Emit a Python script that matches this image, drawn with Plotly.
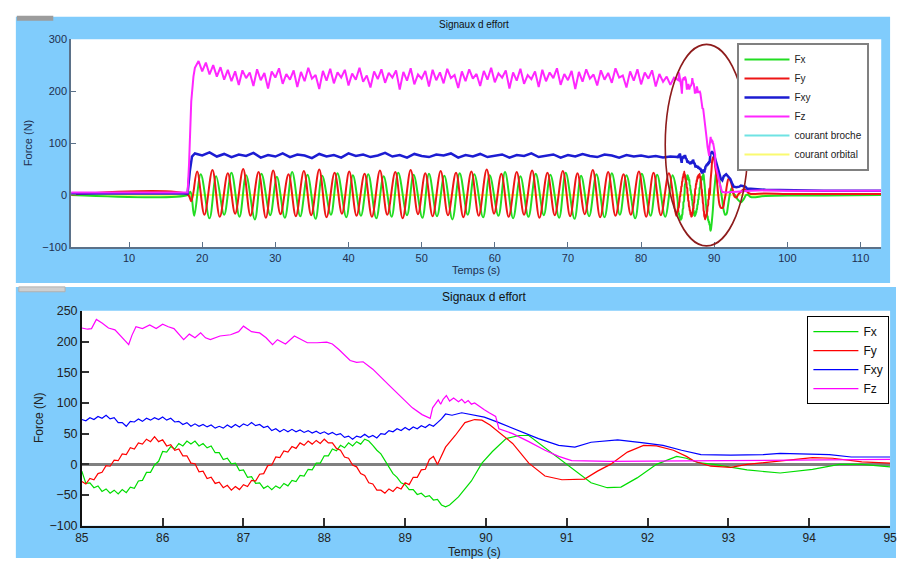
import plotly.graph_objects as go

# ------------------------------------------------------------------
# DATA
# ------------------------------------------------------------------
# Sample clock of the detailed (zoomed) record, 85.00 s -> 89.50 s
DT_FINE = 0.05
t_fine = [round(85.0 + DT_FINE * i, 2) for i in range(91)]

fx_fine = [-11, -31, -30, -38, -35, -44, -40, -47, -42, -48,
           -41, -46, -37, -39, -27, -26, -13, -13, -1, 5,
           21, 20, 29, 25, 34, 30, 38, 33, 38, 30,
           34, 27, 30, 19, 19, 8, 10, 1, 2, -10,
           -9, -21, -20, -31, -30, -39, -35, -41, -35, -39,
           -31, -35, -26, -28, -18, -19, -8, -9, 2, 2,
           14, 14, 25, 22, 31, 27, 35, 30, 37, 33,
           41, 38, 31, 23, 17, 7, -3, -15, -21, -30,
           -33, -41, -41, -49, -47, -53, -51, -58, -57, -66,
           -69]
fy_fine = [-28, -32, -23, -25, -15, -13, -2, -3, 7, 6,
           17, 16, 27, 25, 35, 33, 41, 37, 45, 37,
           40, 30, 32, 23, 25, 14, 14, 2, 1, -12,
           -11, -23, -21, -31, -29, -38, -34, -42, -36, -41,
           -33, -36, -26, -27, -16, -15, -2, -1, 12, 11,
           22, 20, 29, 26, 35, 31, 38, 33, 39, 34,
           41, 35, 35, 26, 23, 12, 10, -1, -4, -15,
           -18, -30, -32, -42, -42, -47, -40, -44, -37, -40,
           -30, -33, -21, -21, -9, -8, 8, 13, 0, 14,
           28]
fxy_fine = [73, 71, 76, 73, 78, 75, 80, 74, 76, 68,
            68, 62, 70, 69, 74, 70, 75, 72, 76, 73,
            77, 72, 75, 69, 70, 65, 68, 62, 66, 62,
            65, 61, 64, 59, 62, 59, 64, 60, 65, 61,
            66, 63, 68, 63, 65, 60, 62, 55, 58, 53,
            57, 53, 57, 53, 56, 52, 55, 51, 54, 50,
            53, 49, 52, 48, 50, 44, 46, 41, 46, 44,
            49, 44, 47, 43, 50, 49, 55, 53, 58, 55,
            60, 56, 61, 58, 63, 60, 65, 62, 68, 74,
            82]

fx_tail_t = [89.55, 89.66, 89.82, 89.95, 90.08, 90.25, 90.41, 90.53, 90.69, 90.90,
             91.10, 91.30, 91.50, 91.67, 91.87, 92.11, 92.36, 92.48, 92.62, 92.82,
             93.23, 93.64, 94.04, 94.37, 94.65, 95.0]
fx_tail_v = [-66, -53, -27, 2, 21, 42, 47, 47, 31, 10,
             -11, -30, -38, -37, -22, 0, 13, 10, 3, 0,
             -9, -14, -8, 0, 0, -4]

fy_tail_t = [89.62, 89.74, 89.86, 89.95, 90.05, 90.16, 90.33, 90.53, 90.73, 90.94,
             91.10, 91.22, 91.38, 91.54, 91.75, 91.95, 92.11, 92.32, 92.48, 92.58,
             92.78, 93.03, 93.23, 93.64, 94.04, 94.29, 94.65, 95.0]
fy_tail_v = [47, 68, 73, 72, 64, 52, 34, 2, -19, -25,
             -25, -24, -11, 0, 20, 31, 30, 23, 13, 5,
             -3, -5, 0, 6, 11, 10, 4, 2]

fxy_tail_t = [89.58, 89.70, 89.86, 89.98, 90.16, 90.41, 90.65, 90.90, 91.10, 91.30,
              91.63, 91.95, 92.19, 92.42, 92.66, 93.03, 93.43, 93.64, 94.25, 94.52, 95.0]
fxy_tail_v = [80, 84, 80, 77, 68, 55, 42, 31, 28, 36,
              40, 35, 31, 23, 16, 15, 16, 18, 16, 12, 12]

fz_zoom_t = [85.0, 85.07, 85.12, 85.18, 85.25, 85.33, 85.41, 85.49, 85.58, 85.62,
             85.67, 85.75, 85.84, 85.92, 86.0, 86.07, 86.14, 86.26, 86.33, 86.40,
             86.47, 86.53, 86.59, 86.71, 86.84, 86.94, 87.0, 87.1, 87.2, 87.28,
             87.36, 87.42, 87.52, 87.63, 87.70, 87.79, 87.91, 88.03, 88.10, 88.18,
             88.32, 88.40, 88.48, 88.60, 88.80, 88.97, 89.09, 89.21, 89.31, 89.34,
             89.38, 89.41, 89.44, 89.47, 89.51, 89.55, 89.60, 89.66, 89.70, 89.74,
             89.78, 89.82, 89.86, 89.90, 89.98, 90.04, 90.12, 90.16, 90.33, 90.53,
             90.73, 90.90, 91.06, 91.54, 92.48, 93.23, 94.04, 94.85, 95.0]
fz_zoom_v = [222, 220, 221, 236, 230, 222, 219, 208, 195, 210,
             224, 221, 227, 221, 228, 224, 221, 203, 212, 206,
             214, 206, 203, 209, 211, 216, 225, 216, 214, 206,
             195, 203, 196, 209, 204, 198, 198, 199, 196, 187,
             169, 166, 167, 155, 129, 108, 92, 81, 75, 92,
             100, 105, 98, 106, 112, 103, 108, 102, 106, 100,
             104, 98, 100, 96, 89, 84, 78, 58, 50, 37,
             23, 13, 6, 5, 6, 6, 7, 8, 8]

# ---- overview record (2 s -> 113 s), outside the zoomed window ----
fx_pre_t = [2.1, 18.0, 18.4]
fx_pre_v = [0, 0, 6]
fy_pre_t = [2.1, 18.0, 18.5]
fy_pre_v = [1, 1, -12]
fxy_pre_t = [2.1, 18.0, 18.3, 18.6]
fxy_pre_v = [3, 3, 45, 74]
fz_pre_t = [2.1, 18.0, 18.2, 18.5, 18.8]
fz_pre_v = [5, 5, 60, 180, 228]

# extrema of the Fx / Fy oscillation during machining
fx_osc_t = [18.9, 19.8, 21.0, 21.9, 23.0, 24.0, 25.1, 26.0, 27.2, 28.1,
            29.3, 30.2, 31.3, 32.3, 33.4, 34.4, 35.5, 36.4, 37.6, 38.5,
            39.7, 40.6, 41.7, 42.7, 43.8, 44.8, 45.9, 46.8, 48.0, 48.9,
            50.1, 51.0, 52.1, 53.1, 54.2, 55.2, 56.3, 57.2, 58.4, 59.3,
            60.5, 61.4, 62.5, 63.5, 64.6, 65.6, 66.7, 67.6, 68.8, 69.7,
            70.9, 71.8, 72.9, 73.9, 75.0, 76.0, 77.1, 78.0, 79.2, 80.1,
            81.3, 82.2, 83.3, 84.3]
fx_osc_v = [-40, 40, -45, 36, -38, 43, -42, 38, -47, 41,
            -39, 35, -44, 44, -41, 39, -46, 37, -38, 42,
            -43, 38, -40, 40, -45, 36, -42, 43, -39, 39,
            -44, 41, -41, 37, -47, 42, -38, 40, -43, 38,
            -40, 44, -45, 36, -42, 41, -39, 39, -44, 43,
            -46, 37, -41, 40, -43, 42, -38, 38, -45, 41,
            -40, 39, -42, 38]
fy_osc_t = [19.3, 20.3, 21.4, 22.4, 23.5, 24.5, 25.6, 26.6, 27.7, 28.7,
            29.7, 30.7, 31.8, 32.8, 33.9, 34.9, 36.0, 37.0, 38.1, 39.1,
            40.1, 41.1, 42.2, 43.2, 44.3, 45.3, 46.4, 47.4, 48.5, 49.5,
            50.5, 51.5, 52.6, 53.6, 54.7, 55.7, 56.8, 57.8, 58.9, 59.9,
            60.9, 61.9, 63.0, 64.0, 65.1, 66.1, 67.2, 68.2, 69.3, 70.3,
            71.3, 72.3, 73.4, 74.4, 75.5, 76.5, 77.6, 78.6, 79.7, 80.7,
            81.7, 82.7, 83.8, 84.8]
fy_osc_v = [45, -38, 48, -42, 42, -36, 50, -40, 44, -44,
            47, -37, 40, -41, 46, -39, 49, -43, 43, -36,
            45, -40, 41, -42, 47, -38, 44, -45, 48, -37,
            42, -41, 46, -39, 43, -43, 45, -40, 49, -36,
            41, -42, 44, -38, 47, -44, 43, -39, 46, -41,
            42, -37, 48, -43, 44, -40, 40, -38, 45, -42,
            43, -39, 42, -40]

# Fz sampled every 0.5 s from 19.0 s to 84.5 s
t_half = [19.0 + 0.5 * i for i in range(132)]
fz_mid_v = [245, 258, 238, 255, 232, 250, 228, 246, 222, 241,
            219, 238, 212, 240, 225, 236, 210, 242, 221, 235,
            205, 238, 226, 244, 214, 233, 222, 240, 208, 237,
            219, 245, 224, 231, 204, 239, 220, 243, 215, 236,
            226, 241, 211, 234, 222, 245, 218, 230, 207, 238,
            223, 242, 216, 235, 226, 240, 203, 237, 220, 244,
            213, 232, 224, 239, 209, 241, 221, 236, 215, 243,
            225, 231, 206, 238, 219, 242, 224, 233, 210, 239,
            222, 245, 217, 234, 226, 240, 205, 236, 220, 243,
            214, 231, 223, 238, 208, 241, 219, 236, 225, 244,
            212, 233, 221, 239, 204, 237, 218, 242, 224, 232,
            211, 240, 222, 235, 216, 244, 226, 230, 207, 238,
            220, 242, 213, 236, 224, 240, 209, 233, 218, 228,
            212, 226]

# Fxy sampled every 1 s from 19 s to 84 s
t_sec = [19 + i for i in range(66)]
fxy_mid_v = [80, 76, 82, 74, 79, 73, 78, 75, 81, 72,
             77, 74, 80, 73, 78, 76, 71, 79, 74, 77,
             72, 80, 75, 78, 73, 76, 81, 74, 77, 72,
             79, 75, 73, 78, 76, 80, 72, 77, 74, 79,
             73, 76, 78, 72, 77, 75, 80, 73, 76, 78,
             72, 77, 74, 79, 75, 73, 78, 76, 72, 77,
             74, 76, 73, 75, 72, 74]

post_t = [97, 100, 105, 112.8]
fx_post_v = [-2, -1, -1, 0]
fy_post_v = [3, 2, 2, 2]
fxy_post_v = [10, 9, 8, 8]
fz_post_v = [9, 8, 8, 8]

courant_t = [2.1, 112.8]
courant_broche_v = [0, 0]
courant_orbital_v = [0, 0]

# ------------------------------------------------------------------
# FIGURE
# ------------------------------------------------------------------
W, H = 903, 565
BLUE = "#80ccfc"
FONT = "Liberation Sans, Arial, sans-serif"


def px(x):
    return x / W


def py(y):
    return 1 - y / H


fig = go.Figure()

# ---- overview (top) ----
fig.add_trace(go.Scatter(x=courant_t, y=courant_broche_v, name="courant broche",
                         mode="lines", line=dict(color="#6fe3e3", width=2),
                         xaxis="x", yaxis="y", legend="legend", legendrank=5))
fig.add_trace(go.Scatter(x=courant_t, y=courant_orbital_v, name="courant orbital",
                         mode="lines", line=dict(color="#fafa70", width=2),
                         xaxis="x", yaxis="y", legend="legend", legendrank=6))
fig.add_trace(go.Scatter(x=fx_pre_t + fx_osc_t + t_fine + fx_tail_t + post_t,
                         y=fx_pre_v + fx_osc_v + fx_fine + fx_tail_v + fx_post_v,
                         name="Fx", mode="lines",
                         line=dict(color="#22dd22", width=2, shape="spline"),
                         xaxis="x", yaxis="y", legend="legend", legendrank=1))
fig.add_trace(go.Scatter(x=fy_pre_t + fy_osc_t + t_fine + fy_tail_t + post_t,
                         y=fy_pre_v + fy_osc_v + fy_fine + fy_tail_v + fy_post_v,
                         name="Fy", mode="lines",
                         line=dict(color="#ee1515", width=2, shape="spline"),
                         xaxis="x", yaxis="y", legend="legend", legendrank=2))
fig.add_trace(go.Scatter(x=fxy_pre_t + t_sec + t_fine + fxy_tail_t + post_t,
                         y=fxy_pre_v + fxy_mid_v + fxy_fine + fxy_tail_v + fxy_post_v,
                         name="Fxy", mode="lines",
                         line=dict(color="#1c1cd2", width=2.5),
                         xaxis="x", yaxis="y", legend="legend", legendrank=3))
fig.add_trace(go.Scatter(x=fz_pre_t + t_half + fz_zoom_t + post_t,
                         y=fz_pre_v + fz_mid_v + fz_zoom_v + fz_post_v,
                         name="Fz", mode="lines",
                         line=dict(color="#ff26ff", width=2),
                         xaxis="x", yaxis="y", legend="legend", legendrank=4))

# ---- zoom 85-95 s (bottom) ----
fig.add_trace(go.Scatter(x=t_fine + fx_tail_t, y=fx_fine + fx_tail_v, name="Fx",
                         mode="lines", line=dict(color="#00dd00", width=1.2),
                         xaxis="x2", yaxis="y2", legend="legend2"))
fig.add_trace(go.Scatter(x=t_fine + fy_tail_t, y=fy_fine + fy_tail_v, name="Fy",
                         mode="lines", line=dict(color="#ff0000", width=1.2),
                         xaxis="x2", yaxis="y2", legend="legend2"))
fig.add_trace(go.Scatter(x=t_fine + fxy_tail_t, y=fxy_fine + fxy_tail_v, name="Fxy",
                         mode="lines", line=dict(color="#0000ff", width=1.2),
                         xaxis="x2", yaxis="y2", legend="legend2"))
fig.add_trace(go.Scatter(x=fz_zoom_t, y=fz_zoom_v, name="Fz",
                         mode="lines", line=dict(color="#ff00ff", width=1.2),
                         xaxis="x2", yaxis="y2", legend="legend2"))

TOP_TXT = "#1f2f4f"
AX_TOP = "#5b7189"

shapes = [
    # blue figure panels
    dict(type="rect", xref="paper", yref="paper", x0=px(9), x1=px(897),
         y0=py(283), y1=py(10), fillcolor=BLUE, line=dict(width=0), layer="below"),
    dict(type="rect", xref="paper", yref="paper", x0=px(9), x1=px(903),
         y0=py(565), y1=py(287), fillcolor=BLUE, line=dict(width=0), layer="below"),
    # white axes areas
    dict(type="rect", xref="paper", yref="paper", x0=px(65), x1=px(888),
         y0=py(246), y1=py(33), fillcolor="white", line=dict(width=0), layer="below"),
    dict(type="rect", xref="paper", yref="paper", x0=px(76), x1=px(897),
         y0=py(532), y1=py(311.5), fillcolor="white", line=dict(width=0), layer="below"),
    # small window tabs
    dict(type="rect", xref="paper", yref="paper", x0=px(10), x1=px(47),
         y0=py(14), y1=py(9), fillcolor="#9c9c9c", line=dict(width=0), layer="below"),
    dict(type="rect", xref="paper", yref="paper", x0=px(12), x1=px(59),
         y0=py(292), y1=py(287), fillcolor="#cfcfcf", line=dict(color="#b0b0b0", width=1),
         layer="below"),
    # hand-drawn ellipse around the exit zone
    dict(type="circle", xref="x", yref="y", x0=83.3, x1=94.6, y0=-98, y1=290,
         line=dict(color="#8e1c1c", width=1.6), layer="above"),
]

annotations = [
    dict(text="Signaux d effort", xref="paper", yref="paper", x=px(474), y=py(18),
         xanchor="center", yanchor="middle", showarrow=False,
         font=dict(size=10, color="#111111", family=FONT)),
    dict(text="Temps (s)", xref="paper", yref="paper", x=px(476), y=py(270),
         xanchor="center", yanchor="middle", showarrow=False,
         font=dict(size=11, color=TOP_TXT, family=FONT)),
    dict(text="Force (N)", xref="paper", yref="paper", x=px(21), y=py(140),
         xanchor="center", yanchor="middle", showarrow=False, textangle=-90,
         font=dict(size=11, color=TOP_TXT, family=FONT)),
    dict(text="Signaux d effort", xref="paper", yref="paper", x=px(485), y=py(297),
         xanchor="center", yanchor="middle", showarrow=False,
         font=dict(size=12, color="#111111", family=FONT)),
    dict(text="Temps (s)", xref="paper", yref="paper", x=px(475), y=py(559),
         xanchor="center", yanchor="middle", showarrow=False,
         font=dict(size=12, color="#222222", family=FONT)),
    dict(text="Force (N)", xref="paper", yref="paper", x=px(32), y=py(421),
         xanchor="center", yanchor="middle", showarrow=False, textangle=-90,
         font=dict(size=12, color="#222222", family=FONT)),
]

fig.update_layout(
    width=W, height=H,
    margin=dict(l=0, r=0, t=0, b=0),
    paper_bgcolor="white", plot_bgcolor="white",
    font=dict(family=FONT),
    showlegend=True,
    xaxis=dict(domain=[px(65), px(888)], anchor="y", range=[2.06, 112.83],
               tickmode="linear", tick0=0, dtick=10,
               showline=True, linecolor=AX_TOP, linewidth=1.5,
               ticks="inside", ticklen=5, tickcolor=AX_TOP, tickwidth=1.2,
               tickfont=dict(size=11, color=TOP_TXT),
               showgrid=False, zeroline=False),
    yaxis=dict(domain=[py(246), py(33)], anchor="x", range=[-100, 300],
               tickmode="linear", tick0=0, dtick=100,
               showline=True, linecolor=AX_TOP, linewidth=1.5,
               ticks="inside", ticklen=5, tickcolor=AX_TOP, tickwidth=1.2,
               tickfont=dict(size=11, color=TOP_TXT),
               showgrid=False, zeroline=True, zerolinecolor="#4a4a4a",
               zerolinewidth=1.2),
    xaxis2=dict(domain=[px(76), px(897)], anchor="y2", range=[85, 95],
                tickmode="linear", tick0=85, dtick=1,
                showline=True, linecolor="#111111", linewidth=1.5,
                ticks="inside", ticklen=8, tickcolor="#333333", tickwidth=1.5,
                tickfont=dict(size=12, color="#222222"),
                ticklabeloverflow="allow",
                showgrid=False, zeroline=False),
    yaxis2=dict(domain=[py(532), py(311.5)], anchor="x2", range=[-100, 250],
                tickmode="linear", tick0=0, dtick=50,
                showline=True, linecolor="#111111", linewidth=1.5,
                ticks="inside", ticklen=7, tickcolor="#333333", tickwidth=1.5,
                tickfont=dict(size=12.5, color="#222222"),
                showgrid=False, zeroline=True, zerolinecolor="#808080",
                zerolinewidth=2.5),
    legend=dict(x=px(742), y=py(37), xanchor="left", yanchor="top",
                bgcolor="white", bordercolor="#808080", borderwidth=2,
                itemwidth=45,
                font=dict(size=10, color="#222222"), traceorder="normal"),
    legend2=dict(x=px(813), y=py(317), xanchor="left", yanchor="top",
                 bgcolor="white", bordercolor="#000000", borderwidth=1,
                 itemwidth=45,
                 font=dict(size=12, color="#111111")),
    shapes=shapes,
    annotations=annotations,
)

fig.write_html("out.html",
               config={"displayModeBar": False},
               post_script="document.body.style.margin='0';"
                           "document.body.style.overflow='hidden';")
